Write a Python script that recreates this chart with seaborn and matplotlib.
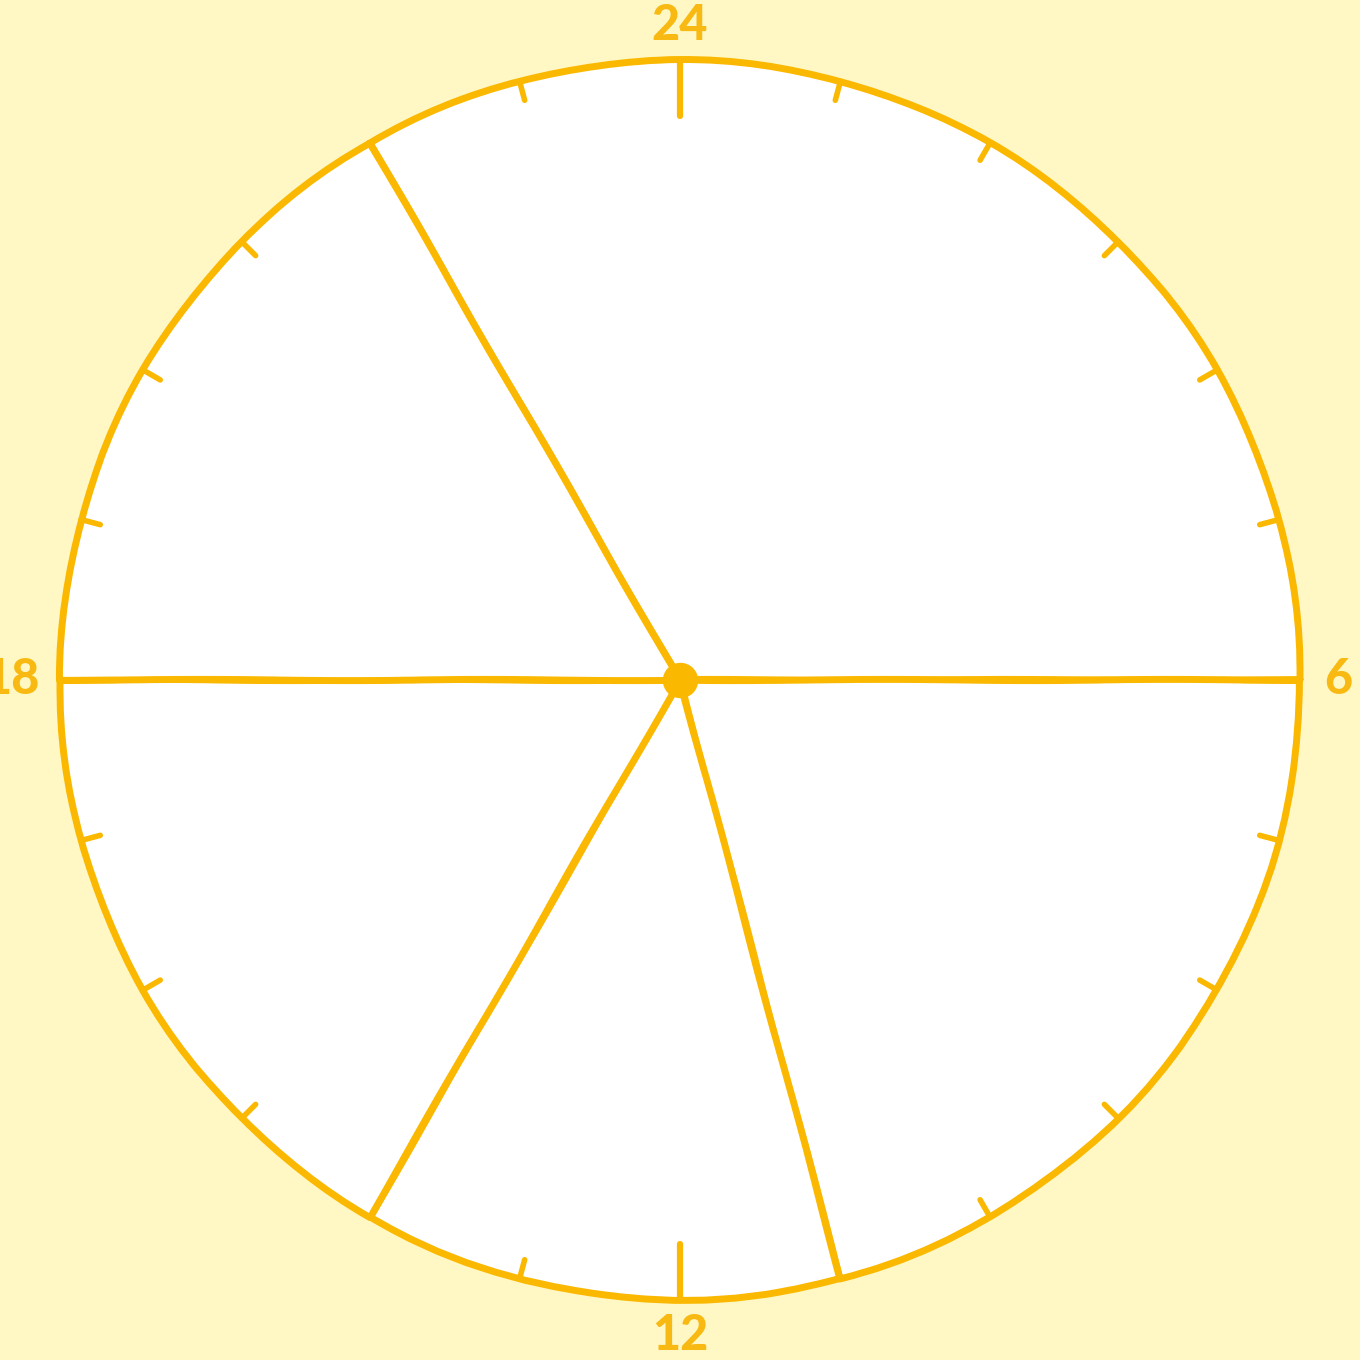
import numpy as np
import seaborn as sns
from matplotlib import pyplot as plt

# day segments, clockwise from 22:00
segment_names = ['sleep', 'morning', 'lunch', 'afternoon', 'evening']
segment_hours = [8, 5, 3, 4, 4]
start_hour = 22

hour_ticks = list(range(24))
major_hours = [0, 6, 12, 18]
hour_labels = ['24', '6', '12', '18']

AMBER = '#FBB800'
BG = '#FFF8C5'

sns.set_theme(style='white', rc={'figure.facecolor': BG, 'axes.facecolor': BG})
plt.rcParams['font.family'] = ['Lato', 'DejaVu Sans']


def hour_to_xy(h, r):
    ang = np.pi / 2 - np.asarray(h) / 24 * 2 * np.pi
    return r * np.cos(ang), r * np.sin(ang)


fig = plt.figure(figsize=(13.6, 13.6), dpi=100)
ax = fig.add_axes([0, 0, 1, 1])
lim = 680 / 620

wedges, _ = ax.pie(
    segment_hours, labels=None, startangle=90 - start_hour * 15 + 360,
    counterclock=False, radius=1,
    colors=['white'] * len(segment_hours),
    wedgeprops=dict(edgecolor=AMBER, linewidth=5, joinstyle='round'),
)
ax.set_xlim(-lim, lim)
ax.set_ylim(-lim, lim)
ax.set_aspect('equal')
ax.axis('off')
for w in wedges:
    w.set_sketch_params(scale=0.6, length=400, randomness=4)

# hour ticks
for h in hour_ticks:
    inner = 0.91 if h in major_hours else 0.968
    x0, y0 = hour_to_xy(h, inner)
    x1, y1 = hour_to_xy(h, 1.0)
    ax.plot([x0, x1], [y0, y1], color=AMBER, lw=4.5 if h in major_hours else 4,
            solid_capstyle='round', zorder=3)

# centre dot
ax.scatter([0], [0], s=650, color=AMBER, zorder=4, linewidths=0)

# hour labels
label_pos = {'24': (0, 655, 'center'), '6': (658, 0, 'center'),
             '12': (0, -655, 'center'), '18': (-640, 0, 'right')}
for lab in hour_labels:
    x, y, ha = label_pos[lab]
    ax.text(x / 620, y / 620, lab, ha=ha, va='center', color='#F8BA12',
            fontsize=35, fontweight='black', zorder=5)

fig.savefig('out.png', dpi=100, facecolor=BG)
